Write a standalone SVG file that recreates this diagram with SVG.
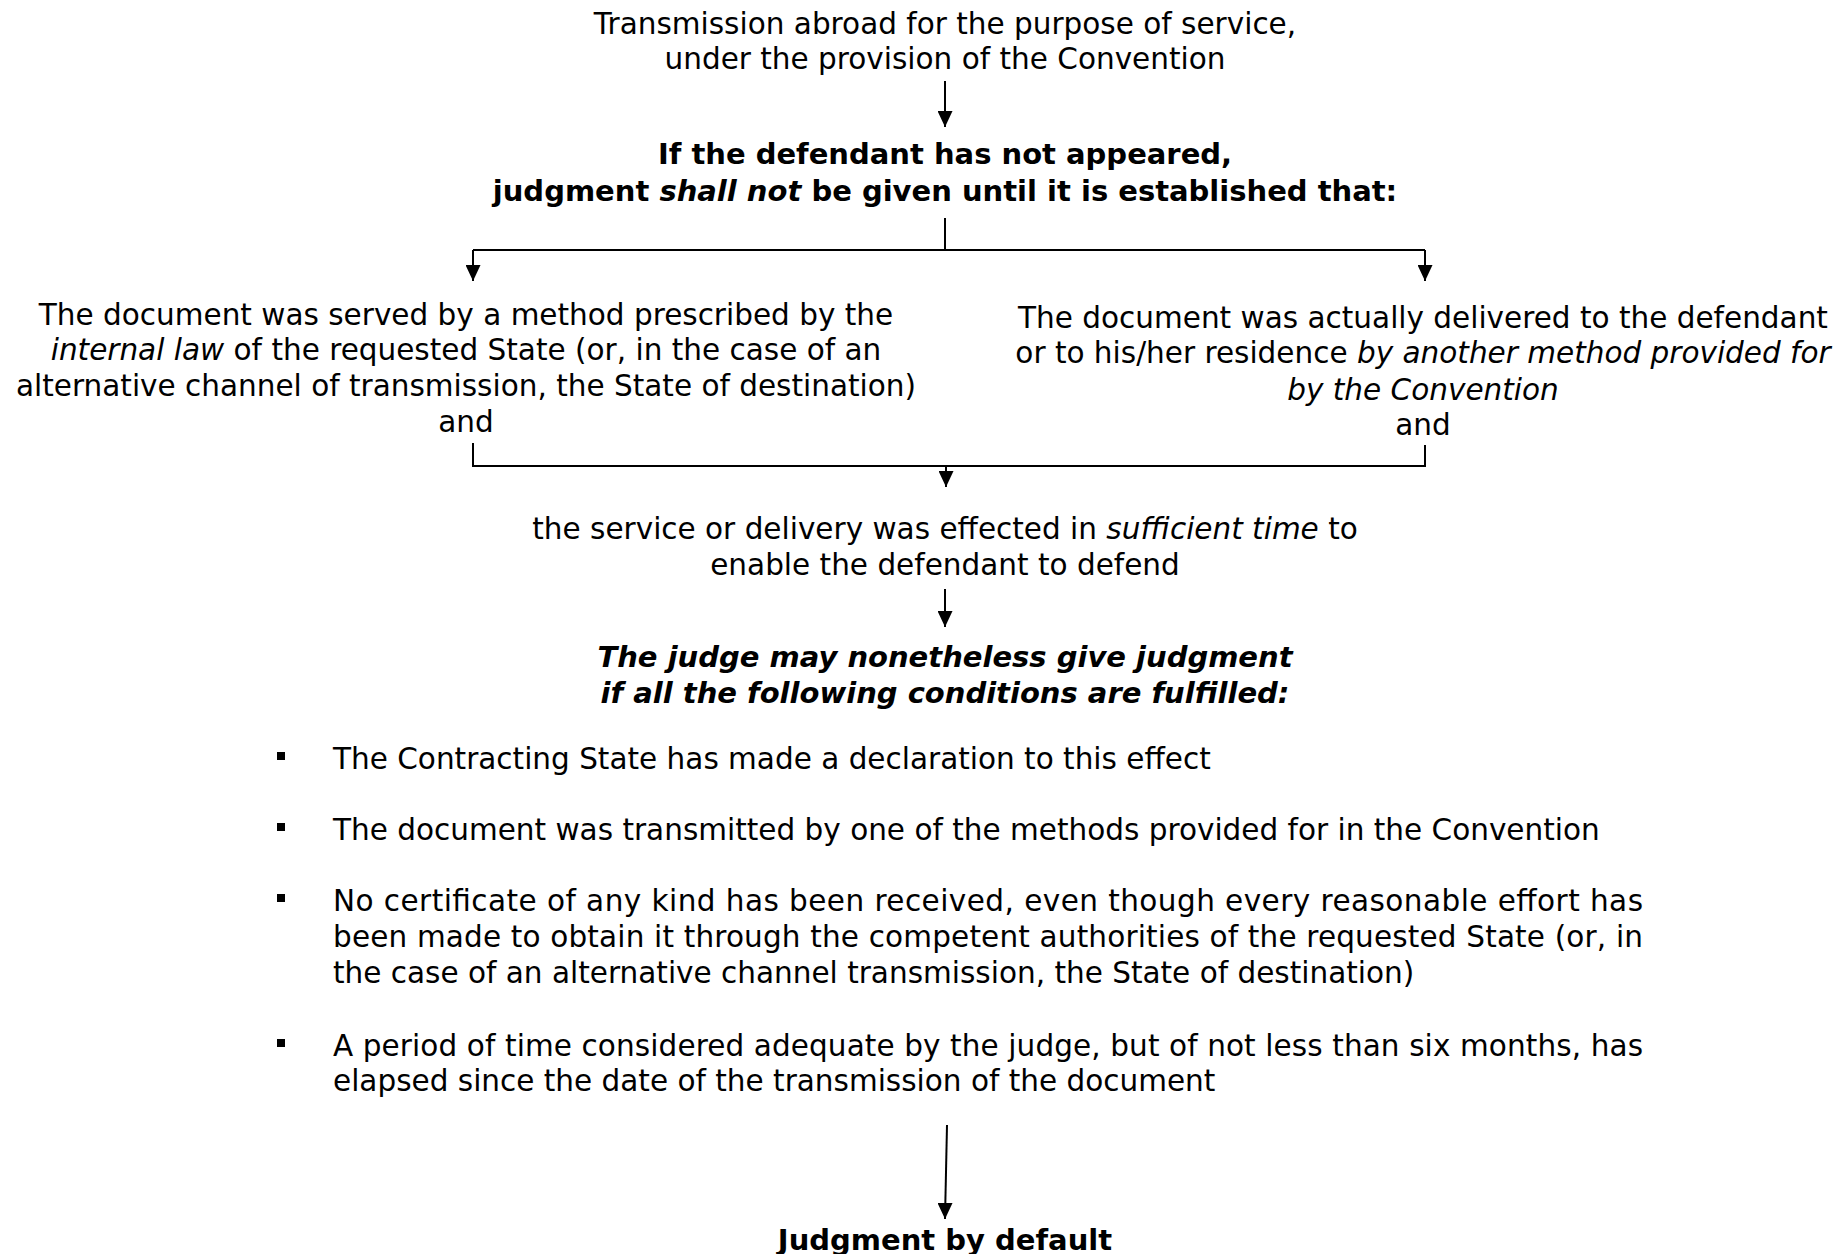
<svg xmlns="http://www.w3.org/2000/svg" width="1847" height="1254" viewBox="0 0 1847 1254">
<defs>
<style>
text{font-family:"DejaVu Sans","Liberation Sans",sans-serif;font-size:29.5px;fill:#000}
.c{text-anchor:middle}
.b{font-weight:bold;font-size:29px}
.i{font-style:italic}
.ln{stroke:#000;stroke-width:2;fill:none}
</style>
<marker id="ad" viewBox="0 0 15 16" refX="7.5" refY="16" markerWidth="15" markerHeight="16" markerUnits="userSpaceOnUse" orient="0">
<path d="M0,0 L15,0 L7.5,16 Z" fill="#000"/>
</marker>
</defs>
<rect width="1847" height="1254" fill="#fff"/>
<g id="connectors">
<line class="ln" x1="945" y1="81" x2="945" y2="127" marker-end="url(#ad)"/>
<path class="ln" d="M945,218 V250"/>
<path class="ln" d="M473,250 H1425"/>
<line class="ln" x1="473" y1="250" x2="473" y2="281" marker-end="url(#ad)"/>
<line class="ln" x1="1425" y1="250" x2="1425" y2="281" marker-end="url(#ad)"/>
<path class="ln" d="M473,443 V466 H1425 V445"/>
<line class="ln" x1="946" y1="466" x2="946" y2="487" marker-end="url(#ad)"/>
<line class="ln" x1="945" y1="589" x2="945" y2="627" marker-end="url(#ad)"/>
<line class="ln" x1="947" y1="1125" x2="945" y2="1219" marker-end="url(#ad)"/>
</g>
<g id="n1">
<text class="c" x="945" y="34">Transmission abroad for the purpose of service,</text>
<text class="c" x="945" y="69">under the provision of the Convention</text>
</g>
<g id="n2">
<text class="c b" x="945" y="164">If the defendant has not appeared,</text>
<text class="c b" x="945" y="201">judgment <tspan class="i">shall not</tspan> be given until it is established that:</text>
</g>
<g id="n3">
<text class="c" x="466" y="325">The document was served by a method prescribed by the</text>
<text class="c" x="466" y="360"><tspan class="i">internal law</tspan> of the requested State (or, in the case of an</text>
<text class="c" x="466" y="396">alternative channel of transmission, the State of destination)</text>
<text class="c" x="466" y="432">and</text>
</g>
<g id="n4">
<text class="c" x="1423" y="328">The document was actually delivered to the defendant</text>
<text class="c" x="1423" y="363">or to his/her residence <tspan class="i">by another method provided for</tspan></text>
<text class="c i" x="1423" y="400">by the Convention</text>
<text class="c" x="1423" y="435">and</text>
</g>
<g id="n5">
<text class="c" x="945" y="539">the service or delivery was effected in <tspan class="i">sufficient time</tspan> to</text>
<text class="c" x="945" y="575">enable the defendant to defend</text>
</g>
<g id="n6">
<text class="c b i" x="945" y="667">The judge may nonetheless give judgment</text>
<text class="c b i" x="945" y="703">if all the following conditions are fulfilled:</text>
</g>
<g id="n7">
<rect x="277" y="752" width="8" height="8" fill="#000"/>
<text x="333" y="769">The Contracting State has made a declaration to this effect</text>
<rect x="277" y="823" width="8" height="8" fill="#000"/>
<text x="333" y="840">The document was transmitted by one of the methods provided for in the Convention</text>
<rect x="277" y="894" width="8" height="8" fill="#000"/>
<text x="333" y="911" textLength="1310" lengthAdjust="spacing">No certificate of any kind has been received, even though every reasonable effort has</text>
<text x="333" y="947" textLength="1310" lengthAdjust="spacing">been made to obtain it through the competent authorities of the requested State (or, in</text>
<text x="333" y="983">the case of an alternative channel transmission, the State of destination)</text>
<rect x="277" y="1039" width="8" height="8" fill="#000"/>
<text x="333" y="1056" textLength="1310" lengthAdjust="spacing">A period of time considered adequate by the judge, but of not less than six months, has</text>
<text x="333" y="1091">elapsed since the date of the transmission of the document</text>
</g>
<g id="n8">
<text class="c b" x="945" y="1250">Judgment by default</text>
</g>
</svg>
